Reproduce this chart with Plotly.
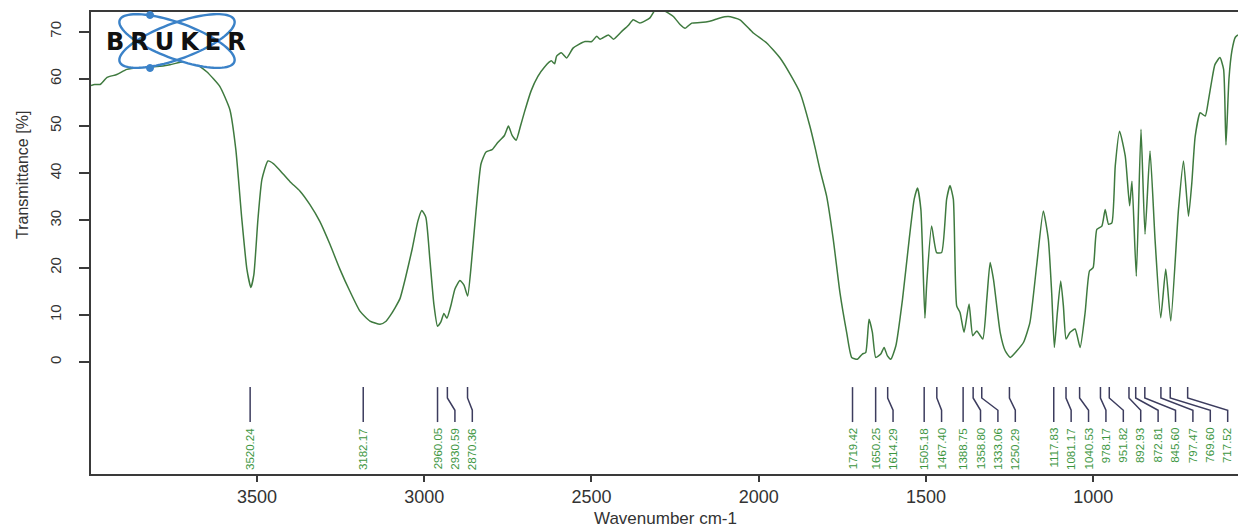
import numpy as np
import plotly.graph_objects as go

# ---------------- data ----------------
wavenumber = [3996, 3985, 3969, 3948, 3919, 3889, 3850, 3799, 3760, 3720, 3690, 3650, 3611, 3581,
              3563, 3545, 3530, 3518, 3509, 3497, 3485, 3467, 3450, 3431, 3401, 3371, 3342, 3312,
              3282, 3252, 3222, 3192, 3162, 3132, 3115, 3102, 3087, 3072, 3057, 3036, 3019, 3007,
              2995, 2983, 2971, 2960, 2950, 2941, 2932, 2920, 2908, 2893, 2881, 2870, 2860, 2845,
              2830, 2815, 2797, 2780, 2760, 2748, 2737, 2725, 2712, 2700, 2680, 2660, 2640, 2620,
              2610, 2604, 2590, 2574, 2555, 2540, 2519, 2499, 2484, 2474, 2449, 2434, 2410, 2390,
              2375, 2355, 2325, 2310, 2285, 2255, 2235, 2220, 2200, 2175, 2146, 2116, 2091, 2056,
              2016, 1976, 1936, 1906, 1876, 1847, 1830, 1817, 1797, 1777, 1757, 1737, 1722, 1705,
              1690, 1680, 1670, 1660, 1650, 1635, 1625, 1615, 1605, 1590, 1570, 1550, 1535, 1525,
              1515, 1503, 1498, 1483, 1468, 1453, 1438, 1428, 1418, 1408, 1398, 1386, 1371, 1360,
              1348, 1330, 1318, 1308, 1298, 1278, 1263, 1248, 1228, 1208, 1189, 1169, 1149, 1134,
              1124, 1116, 1107, 1097, 1089, 1081, 1069, 1054, 1039, 1024, 1011, 1000, 989, 974,
              964, 954, 944, 934, 921, 904, 891, 884, 871, 857, 845, 830, 815, 798, 783, 768, 745,
              730, 715, 705, 695, 680, 665, 655, 645, 636, 621, 610, 603, 594, 585, 575, 567]
transmittance = [58.6, 58.8, 58.8, 60.3, 60.9, 62.0, 62.4, 62.6, 63.0, 63.6, 63.5, 61.5, 58.4, 53.5,
                 45.0, 30.2, 19.7, 15.8, 18.6, 30.2, 38.7, 42.6, 42.0, 40.6, 38.2, 36.2, 33.4, 29.8,
                 25.0, 19.7, 15.0, 10.8, 8.7, 8.0, 8.6, 9.8, 11.5, 13.5, 17.5, 23.9, 29.8, 32.1,
                 30.7, 21.8, 12.3, 7.6, 8.5, 10.3, 9.3, 12.0, 15.5, 17.3, 16.3, 14.0, 20.0, 32.0,
                 42.0, 44.5, 45.0, 46.5, 48.0, 50.0, 48.0, 47.0, 50.0, 53.0, 57.5, 60.5, 62.5, 63.8,
                 63.2, 64.8, 65.5, 64.4, 66.5, 67.2, 67.9, 67.9, 69.0, 68.4, 69.3, 68.4, 70.0, 71.3,
                 72.5, 71.8, 72.9, 74.5, 74.5, 73.2, 71.5, 70.7, 71.8, 71.9, 72.2, 72.9, 73.2, 72.5,
                 69.7, 67.6, 64.4, 61.0, 57.0, 50.0, 45.0, 40.8, 35.2, 26.0, 14.7, 6.3, 1.0, 0.6,
                 1.7, 2.0, 9.1, 6.3, 1.0, 1.7, 3.1, 1.3, 0.6, 3.4, 13.3, 26.0, 34.5, 36.9,
                 32.3, 9.3, 16.1, 28.8, 23.2, 23.2, 34.5, 37.4, 34.5, 11.9, 10.5, 6.3, 12.3, 5.6,
                 6.6, 4.9, 13.3, 21.1, 17.5, 6.3, 2.4, 1.0, 2.4, 4.2, 8.4, 20.4, 32.0, 26.0,
                 14.7, 3.1, 10.5, 17.2, 11.9, 4.9, 6.3, 7.0, 3.1, 10.5, 19.3, 20.0, 28.1, 28.8,
                 32.3, 29.2, 29.5, 41.5, 48.9, 43.6, 33.1, 38.3, 18.2, 49.3, 27.1, 44.7, 26.0, 9.4, 19.7, 8.7, 32.3,
                 42.6, 30.9, 38.0, 47.8, 52.8, 52.1, 55.6, 59.8, 63.0, 64.5, 62.0, 46.0, 60.0, 66.0, 68.8, 69.3]

peak_positions = [3520.24, 3182.17, 2960.05, 2930.59, 2870.36, 1719.42, 1650.25, 1614.29,
                  1505.18, 1467.40, 1388.75, 1358.80, 1333.06, 1250.29, 1117.83, 1081.17,
                  1040.53, 978.17, 951.82, 892.93, 872.81, 845.60, 797.47, 769.60, 717.52]

x_ticks = [3500, 3000, 2500, 2000, 1500, 1000]
y_ticks = [0, 10, 20, 30, 40, 50, 60, 70]

x_title = "Wavenumber cm-1"
y_title = "Transmittance [%]"
logo_text = "BRUKER"

# ---------------- geometry / style ----------------
W, H = 1238, 529
ML, MR, MT, MB = 91, 0, 12, 55
PW, PH = W - ML - MR, H - MT - MB
X_RANGE = [3996, 567]
Y_RANGE = [-23.7, 74.15]

CURVE = "#3f7a3f"
LABEL_GREEN = "#3d963f"
LEADER = "#3c3c5e"
AXIS = "#3a3a3a"
LOGO_BLUE = "#3b82c8"
FONT = "Liberation Sans"

def px_to_paper(px, py):
    return (px - ML) / PW, (H - MB - py) / PH

fig = go.Figure()

fig.add_trace(go.Scatter(x=wavenumber, y=transmittance, mode="lines",
                         line=dict(color=CURVE, width=1.5, shape="spline", smoothing=0.5),
                         hoverinfo="skip", showlegend=False))

# peak leader lines with simple label dodging
GAP = 52.0
label_pos = []
prev = None
for p in peak_positions:
    lp = p if prev is None else min(p, prev - GAP)
    label_pos.append(lp)
    prev = lp

Y_TOP, Y_K1, Y_K2, Y_BOT, Y_LAB = -5.3, -7.6, -10.2, -12.7, -13.5
lx, ly = [], []
for p, lp in zip(peak_positions, label_pos):
    lx += [p, p, lp, lp, None]
    ly += [Y_TOP, Y_K1, Y_K2, Y_BOT, None]
fig.add_trace(go.Scatter(x=lx, y=ly, mode="lines", line=dict(color=LEADER, width=1.5),
                         hoverinfo="skip", showlegend=False))

for p, lp in zip(peak_positions, label_pos):
    fig.add_annotation(x=lp, y=Y_LAB, xref="x", yref="y", text=f"{p:.2f}",
                       textangle=-90, showarrow=False, yanchor="top", xanchor="center",
                       font=dict(family=FONT, size=11.5, color=LABEL_GREEN))

# Bruker logo (orbit ellipses + text)
shapes = []
cx, cy, a, b = 177, 41, 61, 18
t = np.linspace(0, 2 * np.pi, 90)
paths = []
for ang in (20, -20):
    th = np.deg2rad(ang)
    ex = cx + a * np.cos(t) * np.cos(th) - b * np.sin(t) * np.sin(th)
    ey = cy + a * np.cos(t) * np.sin(th) + b * np.sin(t) * np.cos(th)
    pts = [px_to_paper(u, v) for u, v in zip(ex, ey)]
    paths.append("M " + " L ".join(f"{u:.5f},{v:.5f}" for u, v in pts) + " Z")
for pth in paths:
    shapes.append(dict(type="path", xref="paper", yref="paper", path=pth,
                       line=dict(width=0), fillcolor="white", layer="above"))
for pth in paths:
    shapes.append(dict(type="path", xref="paper", yref="paper", path=pth,
                       line=dict(color=LOGO_BLUE, width=2.4), fillcolor="rgba(0,0,0,0)",
                       layer="above"))
for dx, dy in [(150, 15), (150, 68)]:
    x0, y0 = px_to_paper(dx - 3.5, dy + 3.5)
    x1, y1 = px_to_paper(dx + 3.5, dy - 3.5)
    shapes.append(dict(type="circle", xref="paper", yref="paper", x0=x0, y0=y0, x1=x1, y1=y1,
                       line=dict(color=LOGO_BLUE, width=1), fillcolor=LOGO_BLUE, layer="above"))

lxp, lyp = px_to_paper(176, 42)
fig.add_annotation(x=lxp, y=lyp, xref="paper", yref="paper",
                   text="<b>" + "\u2005".join(logo_text) + "</b>",
                   showarrow=False, xanchor="center", yanchor="middle",
                   font=dict(family="DejaVu Sans", size=24, color="#111111"))

# axis titles
tx, ty = px_to_paper(665, 518)
fig.add_annotation(x=tx, y=ty, xref="paper", yref="paper", text=x_title, showarrow=False,
                   xanchor="center", yanchor="middle", font=dict(family=FONT, size=17, color="#333333"))
tx, ty = px_to_paper(22, 175)
fig.add_annotation(x=tx, y=ty, xref="paper", yref="paper", text=y_title, showarrow=False,
                   textangle=-90, xanchor="center", yanchor="middle",
                   font=dict(family=FONT, size=16, color="#333333"))

fig.update_layout(
    width=W, height=H, margin=dict(l=ML, r=MR, t=MT, b=MB, pad=0, autoexpand=False),
    paper_bgcolor="white", plot_bgcolor="white", shapes=shapes,
    xaxis=dict(range=X_RANGE, tickvals=x_ticks, ticktext=[str(v) for v in x_ticks],
               ticks="outside", ticklen=6, tickwidth=1.5, tickcolor=AXIS,
               showline=True, linecolor=AXIS, linewidth=1.5, mirror=True,
               showgrid=False, zeroline=False, automargin=False,
               tickfont=dict(family=FONT, size=18, color="#333333")),
    yaxis=dict(range=Y_RANGE, tickvals=y_ticks, ticktext=[str(v) for v in y_ticks],
               ticks="outside", ticklen=10, tickwidth=1.5, tickcolor=AXIS, tickangle=-90,
               ticklabelstandoff=12,
               showline=True, linecolor=AXIS, linewidth=1.5, mirror=False,
               showgrid=False, zeroline=False, automargin=False,
               tickfont=dict(family=FONT, size=15, color="#333333")),
)

fig.write_html("out.html", config={"displayModeBar": False},
               post_script="document.body.style.margin='0';document.body.style.padding='0';"
                           "document.body.style.overflow='hidden';")
